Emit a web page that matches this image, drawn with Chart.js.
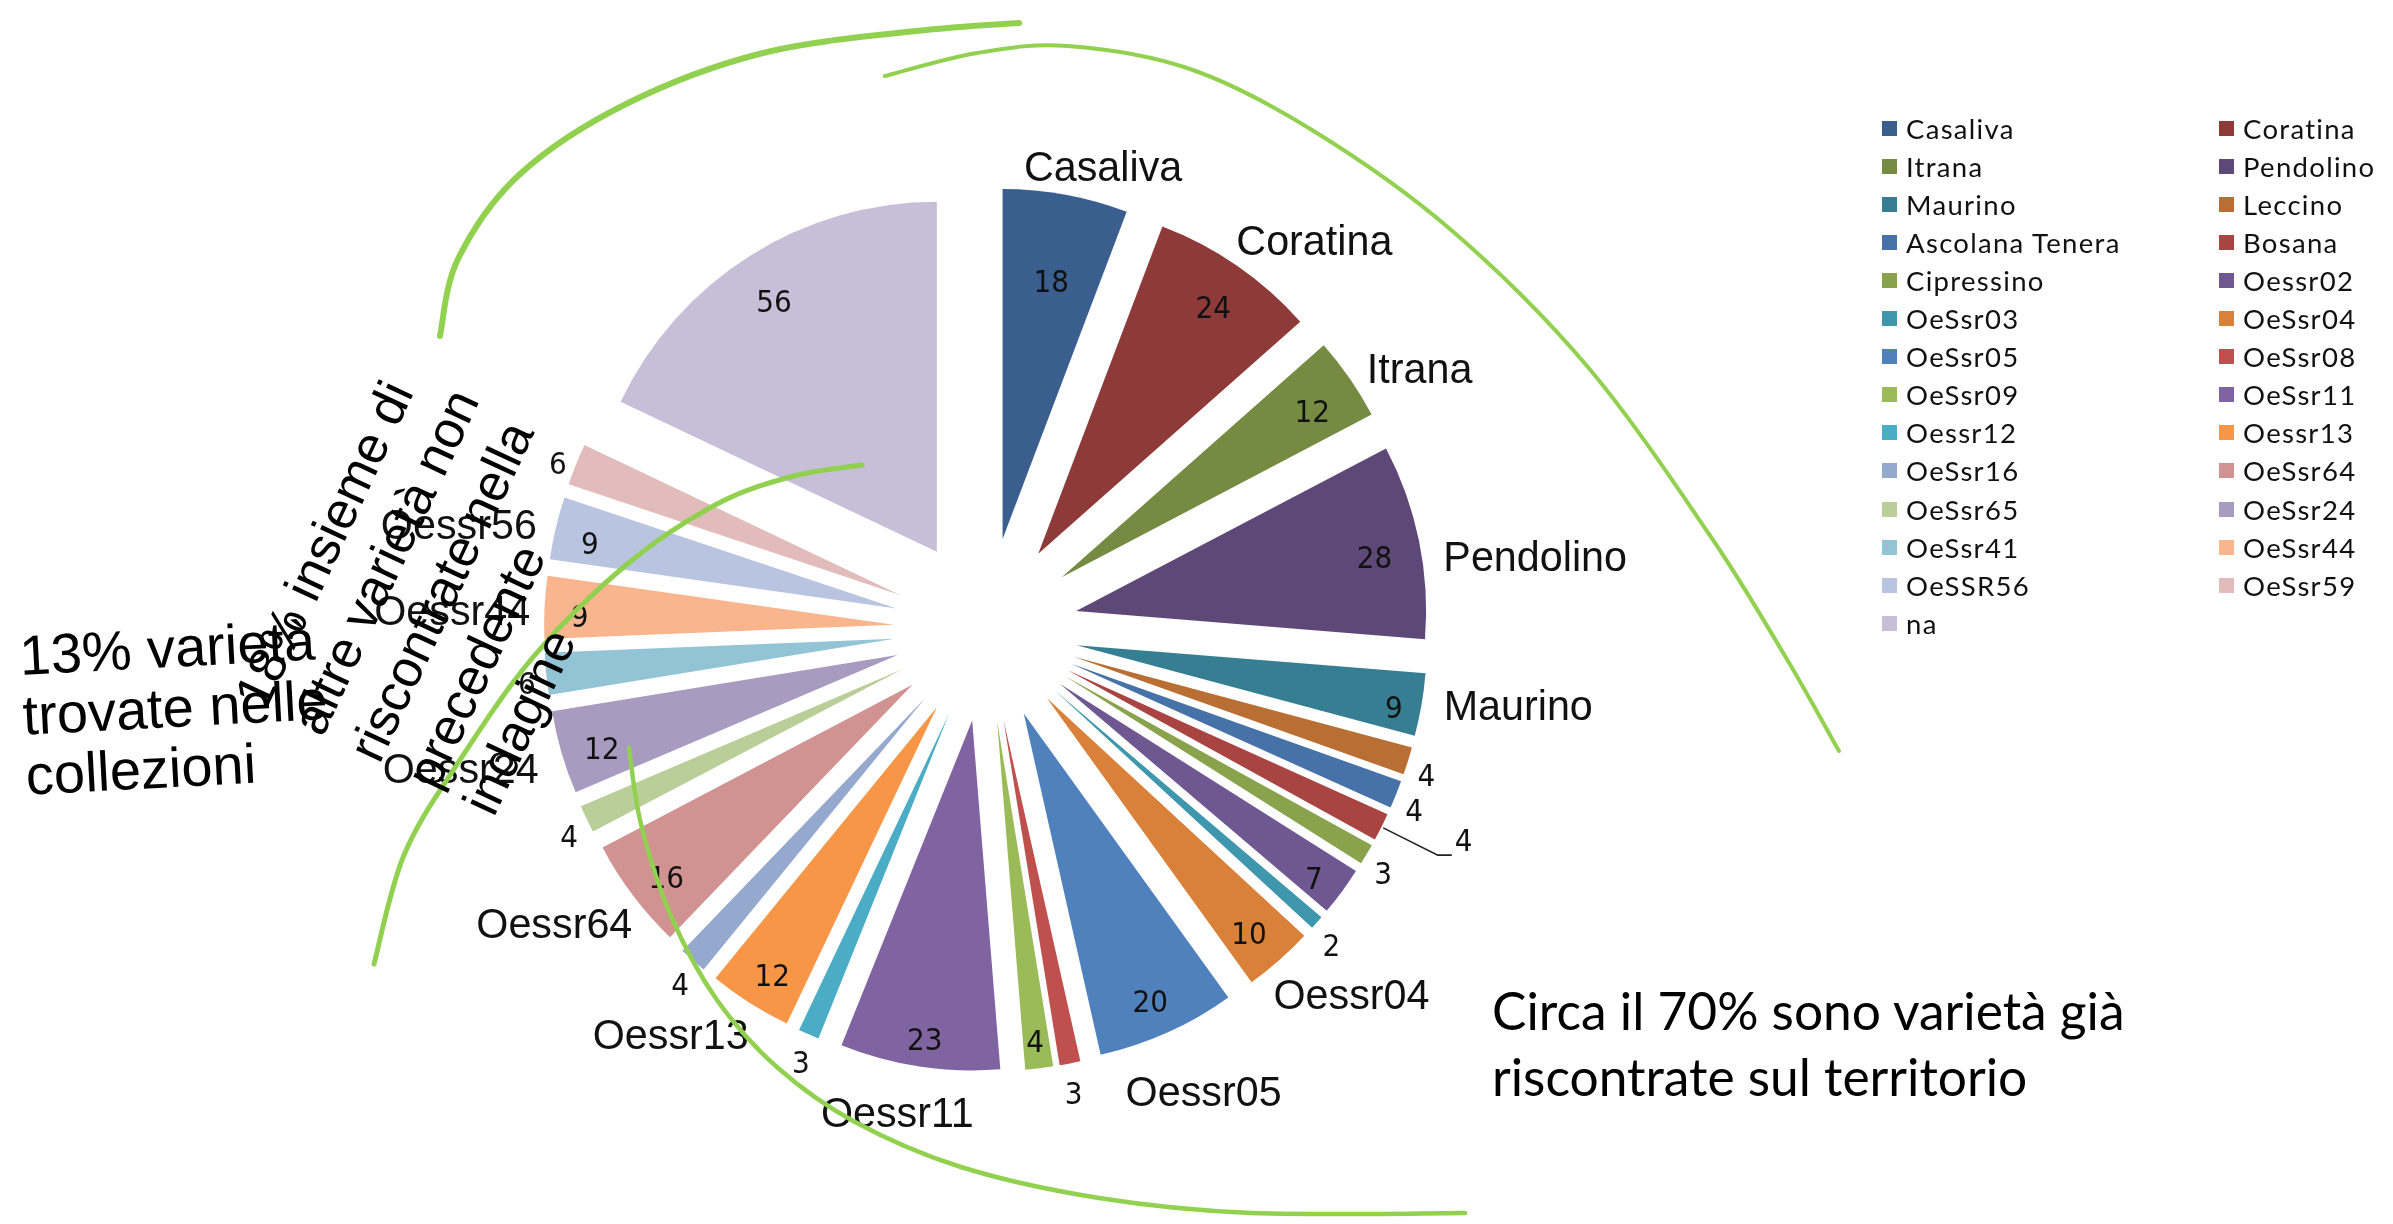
<!DOCTYPE html>
<html lang="it">
<head>
<meta charset="UTF-8">
<title>Varietà di olivo riscontrate</title>
<script src="https://cdn.jsdelivr.net/npm/chart.js"></script>
<style>
  html, body { margin: 0; padding: 0; background: #fff; }
  #stage { position: relative; width: 2393px; height: 1224px; overflow: hidden; background: #fff; }
  #chartBox { position: absolute; left: 0; top: 0; width: 2393px; height: 1224px; }
  #strokes { position: absolute; left: 0; top: 0; pointer-events: none; }
  .note { position: absolute; white-space: nowrap; color: #000; }
  .legend-item { position: absolute; height: 38px; display: flex; align-items: center;
                 font-family: Lato, "Open Sans", sans-serif; font-size: 27.5px; letter-spacing: 1.3px; color: #111; }
  .legend-item span.box { width: 15px; height: 15px; margin-right: 9px; flex: none; }
</style>
</head>
<body>
<div id="stage">
  <div id="chartBox"><canvas id="pie"></canvas></div>
  <div id="legend"></div>
  <svg id="strokes" width="2393" height="1224"></svg>

  <div class="note" id="note70" style="left:1492px; top:977px; font-family: Lato, sans-serif; font-size:52px; line-height:66px; transform: scaleX(0.99); transform-origin: 0 0;">
    Circa il 70% sono varietà già<br>riscontrate sul territorio
  </div>
  <div class="note" id="note13" style="left:18px; top:626px; font-family: 'Liberation Sans', Arial, sans-serif; font-size:56px; line-height:60px; transform: rotate(-3deg); transform-origin: 0 0;">
    13% varietà<br>trovate nelle<br>collezioni
  </div>
  <div class="note" id="note18" style="left:221px; top:691px; font-family: 'Liberation Sans', Arial, sans-serif; font-size:52px; line-height:63px; transform: rotate(-65deg); transform-origin: 0 0;">
    18% insieme di<br>altre varietà non<br>riscontrate nella<br>precedente<br>indagine
  </div>
</div>

<script>
// Olive varieties found, clockwise from 12 o'clock
const varieties = ['Casaliva', 'Coratina', 'Itrana', 'Pendolino', 'Maurino', 'Leccino',
  'Ascolana Tenera', 'Bosana', 'Cipressino', 'Oessr02', 'OeSsr03', 'OeSsr04', 'OeSsr05',
  'OeSsr08', 'OeSsr09', 'OeSsr11', 'Oessr12', 'Oessr13', 'OeSsr16', 'OeSsr64', 'OeSsr65',
  'OeSsr24', 'OeSsr41', 'OeSsr44', 'OeSSR56', 'OeSsr59', 'na'];
const counts = [18, 24, 12, 28, 9, 4, 4, 4, 3, 7, 2, 10, 20, 3, 4, 23, 3, 12, 4, 16, 4, 12, 6, 9, 9, 6, 56];

// names written next to some of the slices
const sliceNames = ['Casaliva', 'Coratina', 'Itrana', 'Pendolino', 'Maurino', '', '', '', '', '', '',
  'Oessr04', 'Oessr05', '', '', 'Oessr11', '', 'Oessr13', '', 'Oessr64', '', 'Oessr24', '',
  'Oessr44', 'Oessr56', '', ''];

const sliceColors = ['#3A5F8E', '#8E3A38', '#748B41', '#5E4878', '#367F92', '#B96E33',
  '#4672A8', '#A84442', '#88A34B', '#6F5791', '#3F97AE', '#DA8139', '#4F81BD', '#C0504D',
  '#9BBB59', '#8064A2', '#4BACC6', '#F79646', '#95A9CF', '#D09392', '#BACE9A', '#A99BBF',
  '#93C4D5', '#F9B68E', '#B9C5E0', '#E2BCBB', '#C7BED7'];

// where each value label sits, as a fraction of the radius (>1 = outside the slice)
const valueLabelRadius = [0.77, 0.88, 0.87, 0.87, 0.92, 1.03, 1.03, 1.18, 1.03, 0.9, 1.03,
  0.87, 0.88, 1.03, 0.9, 0.9, 1.03, 0.88, 1.03, 0.88, 1.03, 0.88, 1.03, 0.9, 0.9, 1.03, 0.87];
const leaderLine = [7];   // Bosana's value is pulled out with a leader line
// small hand nudges [dx, dy] for the name texts
const nameNudge = {0: [20, 11], 1: [23, 8], 2: [12, 14], 3: [9, 26], 4: [6, -3], 11: [9, 9],
  12: [-3, 27], 15: [-8, 12], 17: [-28, 2], 19: [-2, 9], 21: [-9, 8], 23: [3, 8], 24: [-4, 8]};

const EXPLODE = 92;       // every slice is pushed out from the centre by this much
const RADIUS = 350;
const LABEL_DROP = 10;

const valueFont = '31px "Liberation Sans Narrow", "DejaVu Sans Condensed", sans-serif';
const nameFont = '43px "Liberation Sans", Arial, sans-serif';
const NAME_SQUEEZE = 0.96;

// move each arc out along its bisector (like an exploded Excel pie)
const explodePlugin = {
  id: 'explode',
  afterDatasetUpdate(chart, args) {
    args.meta.data.forEach(arc => {
      const mid = (arc.startAngle + arc.endAngle) / 2;
      arc.x += Math.cos(mid) * EXPLODE;
      arc.y += Math.sin(mid) * EXPLODE;
    });
  }
};

// centre of a text box that sits just outside point (px, py) in direction (dx, dy)
function outsidePos(w, h, px, py, dx, dy) {
  return [px + dx * w / 2, py + dy * h / 2];
}

const labelPlugin = {
  id: 'sliceLabels',
  afterDatasetsDraw(chart) {
    const ctx = chart.ctx;
    const values = chart.data.datasets[0].data;
    ctx.save();
    ctx.fillStyle = '#111';
    ctx.textAlign = 'center';
    ctx.textBaseline = 'middle';
    chart.getDatasetMeta(0).data.forEach((arc, i) => {
      const mid = (arc.startAngle + arc.endAngle) / 2;
      const dx = Math.cos(mid), dy = Math.sin(mid);
      const R = arc.outerRadius;
      const k = valueLabelRadius[i];
      const text = String(values[i]);
      ctx.font = valueFont;
      if (leaderLine.includes(i)) {
        const sx = arc.x + dx * (R + 2), sy = arc.y + dy * (R + 2);
        const ex = arc.x + dx * R * k, ey = arc.y + dy * R * k;
        ctx.strokeStyle = '#222';
        ctx.lineWidth = 1.6;
        ctx.beginPath();
        ctx.moveTo(sx, sy);
        ctx.lineTo(ex, ey);
        ctx.lineTo(ex + 14, ey);
        ctx.stroke();
        ctx.textAlign = 'left';
        ctx.fillText(text, ex + 17, ey - 12);
        ctx.textAlign = 'center';
      } else {
        let px = arc.x + dx * R * k, py = arc.y + dy * R * k;
        if (k >= 1) [px, py] = outsidePos(ctx.measureText(text).width, 24, px, py, dx, dy);
        ctx.fillText(text, px, py + LABEL_DROP);
      }
      if (sliceNames[i]) {
        ctx.font = nameFont;
        const w = ctx.measureText(sliceNames[i]).width * NAME_SQUEEZE;
        const q = 1.05;
        const [cx, cy] = outsidePos(w, 40, arc.x + dx * R * q, arc.y + dy * R * q, dx, dy);
        const n = nameNudge[i] || [0, 0];
        ctx.save();
        ctx.translate(cx + n[0], cy + n[1]);
        ctx.scale(NAME_SQUEEZE, 1);
        ctx.fillText(sliceNames[i], 0, 0);
        ctx.restore();
      }
    });
    ctx.restore();
  }
};

new Chart(document.getElementById('pie'), {
  type: 'pie',
  data: {
    labels: varieties,
    datasets: [{
      data: counts,
      backgroundColor: sliceColors,
      borderWidth: 0,
      radius: RADIUS
    }]
  },
  options: {
    responsive: true,
    maintainAspectRatio: false,
    animation: false,
    events: [],
    layout: { padding: { left: 0, right: 421, top: 35, bottom: 0 } },
    plugins: {
      legend: { display: false },
      tooltip: { enabled: false }
    }
  },
  plugins: [explodePlugin, labelPlugin]
});

// legend: two columns, filled row by row
const legend = document.getElementById('legend');
varieties.forEach((name, i) => {
  const row = Math.floor(i / 2), col = i % 2;
  const item = document.createElement('div');
  item.className = 'legend-item';
  item.style.left = (col ? 2219 : 1882) + 'px';
  item.style.top = (109 + row * 38.1) + 'px';
  item.innerHTML = '<span class="box" style="background:' + sliceColors[i] + '"></span>' + name;
  legend.appendChild(item);
});

// hand-drawn green arcs on top of the chart
function smoothPath(pts) {
  let d = 'M' + pts[0][0] + ',' + pts[0][1];
  for (let i = 0; i < pts.length - 1; i++) {
    const p0 = pts[i - 1] || pts[i], p1 = pts[i], p2 = pts[i + 1], p3 = pts[i + 2] || p2;
    const c1 = [p1[0] + (p2[0] - p0[0]) / 6, p1[1] + (p2[1] - p0[1]) / 6];
    const c2 = [p2[0] - (p3[0] - p1[0]) / 6, p2[1] - (p3[1] - p1[1]) / 6];
    d += ' C' + c1.join(',') + ' ' + c2.join(',') + ' ' + p2.join(',');
  }
  return d;
}
const strokes = [
  { w: 6, pts: [[440, 336], [458, 259], [519, 175], [626, 104], [763, 53], [916, 31], [1019, 23]] },
  { w: 4, pts: [[885, 76], [977, 53], [1068, 46], [1190, 69], [1312, 130], [1450, 229], [1587, 366], [1709, 534], [1785, 656], [1839, 751]] },
  { w: 5, pts: [[862, 465], [794, 476], [717, 504], [626, 565], [534, 656], [458, 763], [404, 855], [374, 964]] },
  { w: 4.5, pts: [[629, 748], [641, 824], [671, 916], [717, 1000], [778, 1068], [855, 1122], [961, 1167], [1099, 1198], [1251, 1213], [1465, 1213]] }
];
const svg = document.getElementById('strokes');
strokes.forEach(s => {
  const p = document.createElementNS('http://www.w3.org/2000/svg', 'path');
  p.setAttribute('d', smoothPath(s.pts));
  p.setAttribute('fill', 'none');
  p.setAttribute('stroke', '#92D050');
  p.setAttribute('stroke-width', s.w);
  p.setAttribute('stroke-linecap', 'round');
  svg.appendChild(p);
});
</script>
</body>
</html>
